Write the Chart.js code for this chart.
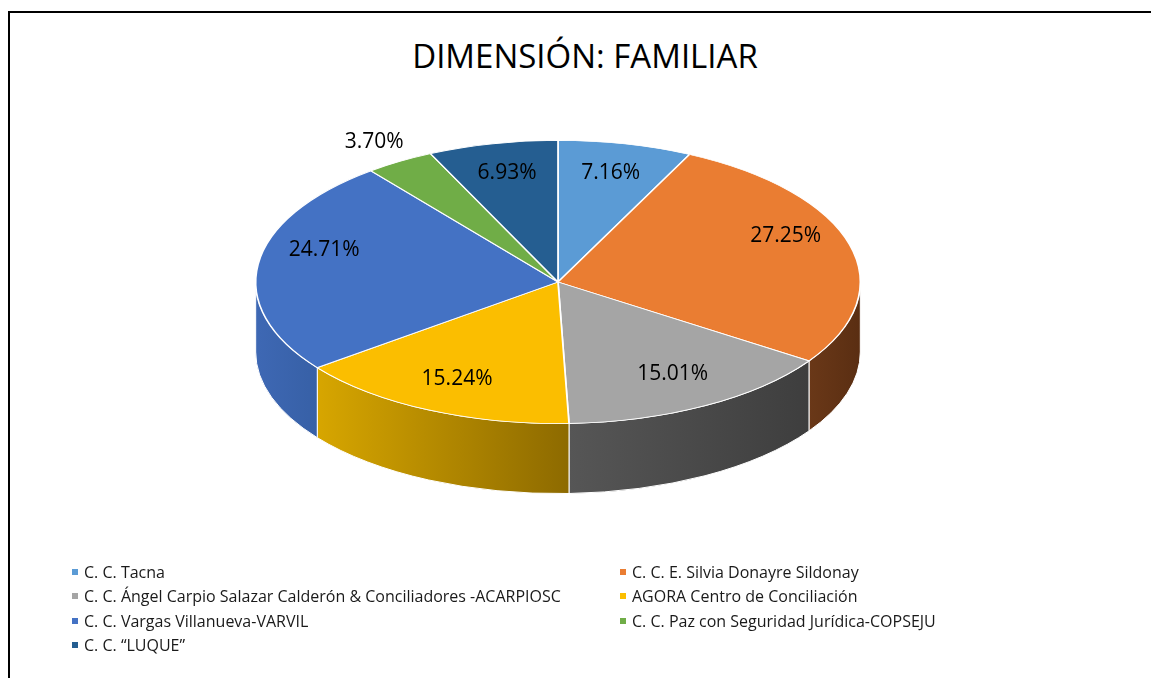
<!DOCTYPE html>
<html>
<head>
<meta charset="utf-8">
<script src="https://cdn.jsdelivr.net/npm/chart.js@4/dist/chart.umd.min.js"></script>
<style>
  html, body { margin: 0; padding: 0; background: #fff; overflow: hidden; width: 1151px; height: 678px; }
  #frame { position: absolute; left: 8px; top: 11px; width: 2000px; height: 2000px; border: 2px solid #000; box-sizing: border-box; }
  #wrap { position: absolute; left: 0; top: 0; width: 1170px; height: 678px; }
  #title { position: absolute; left: 0; top: 36px; width: 1170px; text-align: center;
           font-family: "Open Sans", sans-serif; font-size: 33px; line-height: 40px; color: #000; white-space: nowrap; }
  #legend { position: absolute; left: 0; top: 0; width: 1151px; height: 678px; pointer-events: none;
            font-family: "Open Sans", sans-serif; font-size: 16px; color: #1a1a1a; }
  .item { position: absolute; white-space: nowrap; line-height: 20px; }
  .mk { position: absolute; width: 6px; height: 6px; top: 7px; }
  .tx { position: absolute; left: 12px; top: 0; }
</style>
</head>
<body>
<div id="frame"></div>
<div id="title"></div>
<div id="wrap"><canvas id="c"></canvas></div>
<div id="legend"></div>
<script>
// ---- data ----
const categories = [
  'C. C. Tacna',
  'C. C. E. Silvia Donayre Sildonay',
  'C. C. Ángel Carpio Salazar Calderón & Conciliadores -ACARPIOSC',
  'AGORA Centro de Conciliación',
  'C. C. Vargas Villanueva-VARVIL',
  'C. C. Paz con Seguridad Jurídica-COPSEJU',
  'C. C. \u201CLUQUE\u201D'
];
const percentages = [7.16, 27.25, 15.01, 15.24, 24.71, 3.70, 6.93];
const chartTitle = 'DIMENSIÓN: FAMILIAR';

// ---- styles ----
const topColors  = ['#5B9BD5', '#EA7D32', '#A5A5A5', '#FBBE00', '#4472C4', '#70AD47', '#255E91'];
const wallLight  = ['#4a80b2', '#6a3818', '#565656', '#d7a600', '#3e68b4', '#5b8e3a', '#1f4d77'];
const wallDark   = ['#3b6791', '#5a2e12', '#3e3e3e', '#8d6a00', '#3760a6', '#4a742f', '#193f62'];
const STRETCH = 2.135;   // horizontal stretch of the tilted pie
const DEPTH = 70;        // thickness of the pie
const PERSPECTIVE_LIFT = 18; // labels near the horizontal axis sit higher (perspective)

document.getElementById('title').textContent = chartTitle;

const pie3d = {
  id: 'pie3d',
  beforeDatasetsDraw(chart) {
    const ctx = chart.ctx;
    const meta = chart.getDatasetMeta(0);
    const a0 = meta.data[0];
    const cx = a0.x, cy = a0.y, r = a0.outerRadius;
    const rx = r * STRETCH, ry = r;
    meta.data.forEach((arc, i) => {
      const s = Math.max(arc.startAngle, 0), e = Math.min(arc.endAngle, Math.PI);
      if (e <= s) return;
      const xa = cx + rx * Math.cos(s), xb = cx + rx * Math.cos(e);
      ctx.beginPath();
      ctx.ellipse(cx, cy, rx, ry, 0, s, e, false);
      ctx.ellipse(cx, cy + DEPTH, rx, ry, 0, e, s, true);
      ctx.closePath();
      const g = ctx.createLinearGradient(Math.min(xa, xb), 0, Math.max(xa, xb), 0);
      g.addColorStop(0, wallLight[i]);
      g.addColorStop(1, wallDark[i]);
      ctx.fillStyle = g;
      ctx.fill();
      ctx.strokeStyle = '#ffffff';
      ctx.lineWidth = 1;
      ctx.stroke();
    });
    ctx.save();
    ctx.translate(cx, cy);
    ctx.scale(STRETCH, 1);
    ctx.translate(-cx, -cy);
  },
  afterDatasetsDraw(chart) {
    const ctx = chart.ctx;
    ctx.restore();
    const meta = chart.getDatasetMeta(0);
    ctx.save();
    ctx.font = '21px "Open Sans", sans-serif';
    ctx.fillStyle = '#000';
    ctx.textAlign = 'center';
    ctx.textBaseline = 'middle';
    meta.data.forEach((arc, i) => {
      const v = percentages[i];
      const mid = (arc.startAngle + arc.endAngle) / 2;
      const f = v < 5 ? 1.16 : 0.78;
      const c = Math.cos(mid), s = Math.sin(mid);
      const x = arc.x + c * arc.outerRadius * f * STRETCH;
      const y = arc.y + s * arc.outerRadius * f - (v < 5 ? 0 : PERSPECTIVE_LIFT * c * c);
      ctx.fillText(v.toFixed(2) + '%', x, y);
    });
    ctx.restore();
  }
};

const chart = new Chart(document.getElementById('c'), {
  type: 'pie',
  data: {
    labels: categories,
    datasets: [{
      data: percentages,
      backgroundColor: topColors,
      borderColor: '#ffffff',
      borderWidth: 0.8,
      hoverOffset: 0,
      clip: false
    }]
  },
  options: {
    responsive: true,
    maintainAspectRatio: false,
    animation: false,
    events: [],
    layout: { padding: { left: 258, right: 312, top: 140, bottom: 254 } },
    plugins: {
      legend: { display: false },
      tooltip: { enabled: false },
      title: { display: false }
    }
  },
  plugins: [pie3d]
});

// ---- HTML legend (two columns) ----
const leg = document.getElementById('legend');
const colX = [72, 620];
const rowY = [562, 586, 611, 635];
categories.forEach((name, i) => {
  const d = document.createElement('div');
  d.className = 'item';
  d.style.left = colX[i % 2] + 'px';
  d.style.top = rowY[Math.floor(i / 2)] + 'px';
  const m = document.createElement('span');
  m.className = 'mk';
  m.style.background = topColors[i];
  const t = document.createElement('span');
  t.className = 'tx';
  t.textContent = name;
  d.appendChild(m); d.appendChild(t);
  leg.appendChild(d);
});
</script>
</body>
</html>
